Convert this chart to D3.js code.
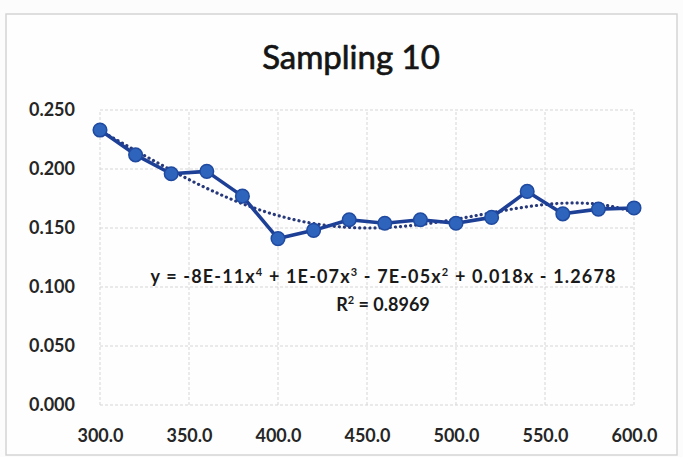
<!DOCTYPE html>
<html><head><meta charset="utf-8">
<script src="https://cdn.jsdelivr.net/npm/d3@7"></script>
<style>body{margin:0;background:#fff}svg{display:block}</style>
</head><body>
<script>
const title = "Sampling 10";
const xValues = [300,320,340,360,380,400,420,440,460,480,500,520,540,560,580,600];
const yValues = [0.233,0.212,0.196,0.198,0.177,0.141,0.148,0.157,0.154,0.157,0.154,0.159,0.181,0.162,0.166,0.167];
const xTicks = [300,350,400,450,500,550,600];
const yTicks = [0,0.05,0.1,0.15,0.2,0.25];
const equationText = ["y = -8E-11x", "4", " + 1E-07x", "3", " - 7E-05x", "2", " + 0.018x - 1.2678"];
const r2Text = "0.8969";

const W = 683, H = 457;
const svg = d3.select("body").append("svg").attr("width", W).attr("height", H);
svg.append("rect").attr("x",0).attr("y",0).attr("width",W).attr("height",H).attr("fill","#fcfcfc");
svg.append("rect").attr("x",6).attr("y",14).attr("width",W-12).attr("height",H-16)
  .attr("fill","#fefefe").attr("stroke","#d4d4d4").attr("stroke-width",1.5);

const x = d3.scaleLinear().domain([300,600]).range([100,634]);
const y = d3.scaleLinear().domain([0,0.25]).range([405,110]);
const font = "Lato, 'Open Sans', sans-serif";

// gridlines
svg.append("g").selectAll("line.h").data(yTicks).join("line")
  .attr("x1",x(300)).attr("x2",x(600)).attr("y1",d=>y(d)).attr("y2",d=>y(d))
  .attr("stroke","#d6d6d6").attr("stroke-width",1).attr("stroke-dasharray","3,2");
svg.append("g").selectAll("line.v").data(xTicks).join("line")
  .attr("x1",d=>x(d)).attr("x2",d=>x(d)).attr("y1",y(0)).attr("y2",y(0.25))
  .attr("stroke","#d6d6d6").attr("stroke-width",1).attr("stroke-dasharray","3,2");

// axes (labels only)
const xAxis = svg.append("g").attr("transform",`translate(0,${y(0)})`)
  .call(d3.axisBottom(x).tickValues(xTicks).tickSize(0).tickPadding(24).tickFormat(d3.format(".1f")));
xAxis.select(".domain").remove();
xAxis.selectAll("text").attr("font-family",font).attr("font-size",18).attr("font-weight","bold").attr("fill","#262626");
const yAxis = svg.append("g").attr("transform",`translate(${x(300)},0)`)
  .call(d3.axisLeft(y).tickValues(yTicks).tickSize(0).tickPadding(25).tickFormat(d3.format(".3f")));
yAxis.select(".domain").remove();
yAxis.selectAll("text").attr("font-family",font).attr("font-size",18).attr("font-weight","bold").attr("fill","#262626");

// polynomial trendline (least squares, order 4) computed from data
function polyfit(xs, ys, deg){
  const m = d3.mean(xs), s = (d3.max(xs)-d3.min(xs))/2;
  const u = xs.map(v=>(v-m)/s);
  const n = deg+1;
  const A = Array.from({length:n},()=>new Array(n+1).fill(0));
  for(let i=0;i<n;i++){
    for(let j=0;j<n;j++) A[i][j] = d3.sum(u, v=>Math.pow(v,i+j));
    A[i][n] = d3.sum(u.map((v,k)=>Math.pow(v,i)*ys[k]));
  }
  for(let c=0;c<n;c++){
    let p=c; for(let r=c+1;r<n;r++) if(Math.abs(A[r][c])>Math.abs(A[p][c])) p=r;
    [A[c],A[p]]=[A[p],A[c]];
    for(let r=0;r<n;r++){ if(r===c) continue; const f=A[r][c]/A[c][c]; for(let k=c;k<=n;k++) A[r][k]-=f*A[c][k]; }
  }
  const coef = A.map((row,i)=>row[n]/row[i]);
  return v=>{ const t=(v-m)/s; return coef.reduce((acc,c,i)=>acc+c*Math.pow(t,i),0); };
}
const f = polyfit(xValues, yValues, 4);
const trendX = d3.range(300, 600.5, 3);
svg.append("path").datum(trendX)
  .attr("d", d3.line().x(d=>x(d)).y(d=>y(f(d))).curve(d3.curveMonotoneX))
  .attr("fill","none").attr("stroke","#27397a").attr("stroke-width",3.2)
  .attr("stroke-dasharray","0.1,5").attr("stroke-linecap","round");

// data line
const pts = xValues.map((v,i)=>[v,yValues[i]]);
svg.append("path").datum(pts)
  .attr("d", d3.line().x(d=>x(d[0])).y(d=>y(d[1])))
  .attr("fill","none").attr("stroke","#1d3f95").attr("stroke-width",3.6).attr("stroke-linejoin","round");
svg.append("g").selectAll("circle").data(pts).join("circle")
  .attr("cx",d=>x(d[0])).attr("cy",d=>y(d[1])).attr("r",6.8)
  .attr("fill","#2f64bd").attr("stroke","#1f4aa0").attr("stroke-width",1.5);

// title
svg.append("text").attr("x",351).attr("y",69).attr("text-anchor","middle")
  .attr("font-family",font).attr("font-size",33).attr("fill","#151515")
  .attr("stroke","#151515").attr("stroke-width",0.7).text(title);

// equation
const eq = svg.append("text").attr("x",383).attr("y",283).attr("text-anchor","middle")
  .attr("font-family",font).attr("font-size",18).attr("font-weight","bold").attr("fill","#1a1a1a");
equationText.forEach((t,i)=>{
  const ts = eq.append("tspan").text(t);
  if(i%2===1) ts.attr("font-size",11).attr("dy",-7);
  else if(i>0) ts.attr("dy",7);
});
const eqW = eq.node().getComputedTextLength();
if (eqW > 0 && eqW < 465) eq.attr("textLength", 465).attr("lengthAdjust","spacing");
const r2 = svg.append("text").attr("x",383).attr("y",311).attr("text-anchor","middle")
  .attr("font-family",font).attr("font-size",18).attr("font-weight","bold").attr("fill","#1a1a1a");
r2.append("tspan").text("R");
r2.append("tspan").text("2").attr("font-size",11).attr("dy",-7);
r2.append("tspan").text(" = " + r2Text).attr("dy",7);
</script>
</body></html>
